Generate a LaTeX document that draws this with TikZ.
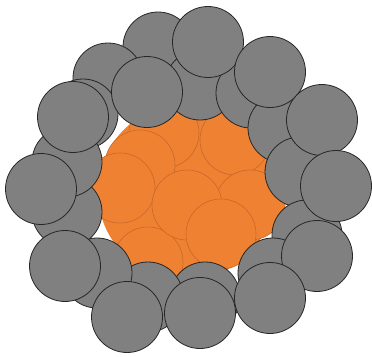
\documentclass[tikz,border=0pt]{standalone}
\usetikzlibrary{positioning}
\definecolor{cgrey}{HTML}{808080}
\definecolor{corange}{HTML}{EF8132}
\definecolor{cedge}{HTML}{C8682A}
\tikzset{
  every picture/.style={line width=0.8pt},
  outer/.style={draw=black!85, fill=cgrey},
  inner/.style={draw=cedge, fill=corange, line width=0.6pt},
}

\begin{document}
\begin{tikzpicture}[x=1pt, y=-1pt]
  \useasboundingbox (0,0) rectangle (372,356);
  % core
  \fill[corange] (186,192) circle (88);
  \foreach \x/\y in {164/133, 235/140, 140/165, 120/188, 250/205, 148/262, 187/205, 221/234}
    \draw[inner] (\x,\y) circle (35);
  % back layer of the ring
  \foreach \x/\y in {158/47, 108/78, 83/114, 200/85, 251/93, 283/128, 300/172, 307/235, 273/273, 205/297, 148/297, 97/273, 67/212, 67/162}
    \draw[outer] (\x,\y) circle (35);
  % front layer of the ring
  \foreach \x/\y in {208/42, 147/92, 73/117, 270/72, 322/120, 336/186, 317/256, 270/298, 200/313, 127/317, 65/266, 41/189}
    \draw[outer] (\x,\y) circle (35.5);
\end{tikzpicture}
\end{document}
